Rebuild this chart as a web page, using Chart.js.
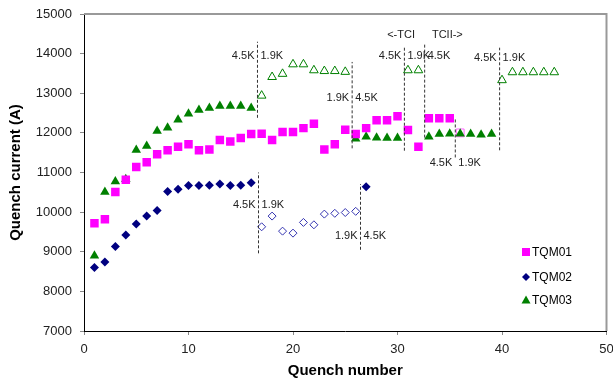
<!DOCTYPE html>
<html>
<head>
<meta charset="utf-8">
<script src="https://cdn.jsdelivr.net/npm/chart.js@4.4.0/dist/chart.umd.min.js"></script>
<style>
  body { margin: 0; background: #fff; }
</style>
</head>
<body>
<canvas id="quenchChart" width="613" height="380"></canvas>
<script>
// quench number / quench current (A)
var tqm01N = [1,2,3,4,5,6,7,8,9,10,11,12,13,14,15,16,17,18,19,20,21,22,23,24,25,26,27,28,29,30,31,32,33,34,35];
var tqm01I = [9720,9820,10510,10820,11140,11260,11460,11560,11650,11710,11560,11580,11820,11780,11870,11970,11980,11820,12020,12020,12120,12230,11580,11710,12080,11970,12120,12320,12320,12420,12070,11650,12370,12370,12370];
var tqm01OpenN = [36];
var tqm01OpenI = [12000];

var tqm02N = [1,2,3,4,5,6,7,8,9,10,11,12,13,14,15,16,27];
var tqm02I = [8600,8740,9130,9420,9700,9900,10040,10520,10580,10670,10670,10680,10710,10670,10680,10740,10640];
var tqm02OpenN = [17,18,19,20,21,22,23,24,25,26];
var tqm02OpenI = [9630,9900,9520,9470,9740,9680,9950,9970,9990,10020];

var tqm03N = [1,2,3,4,5,6,7,8,9,10,11,12,13,14,15,16,26,27,28,29,30,33,34,35,36,37,38,39];
var tqm03I = [8900,10510,10770,10830,11570,11670,12050,12130,12330,12480,12580,12630,12680,12680,12680,12630,11850,11900,11880,11870,11870,11900,11970,11980,11980,11970,11950,11970];
var tqm03OpenN = [17,18,19,20,21,22,23,24,25,31,32,40,41,42,43,44,45];
var tqm03OpenI = [12940,13410,13490,13730,13730,13580,13560,13560,13540,13580,13580,13330,13530,13530,13530,13530,13530];

// dashed temperature change markers
var cutX     = [16.6, 16.7, 25.66, 26.46, 30.66, 32.6, 35.53, 39.77];
var cutLow   = [12380, 8960, 11610, 9050, 11550, 11880, 11380, 11560];
var cutHigh  = [14300, 11000, 13790, 10710, 14170, 14230, 12380, 14150];
var cutTextY = [13940, 10180, 12890, 9400, 13950, 13950, 11240, 13890];
var cutLeft  = ['4.5K', '4.5K', '1.9K', '1.9K', '4.5K', '', '4.5K', '4.5K'];
var cutRight = ['1.9K', '1.9K', '4.5K', '4.5K', '1.9K', '4.5K', '1.9K', '1.9K'];

var noteText = ['<-TCI', 'TCII->'];
var noteX = [30.34, 34.77];
var noteY = [14460, 14460];

var seriesNames = ['TQM01', 'TQM02', 'TQM03'];

function pts(xs, ys) {
  var out = [];
  for (var i = 0; i < xs.length; i++) out.push({x: xs[i], y: ys[i]});
  return out;
}

var FONT = '"Liberation Sans", Arial, sans-serif';
Chart.defaults.font.family = FONT;
Chart.defaults.color = '#000';

var datasets = [
  { label: seriesNames[0], data: pts(tqm01N, tqm01I), pointStyle: 'rect', pointRadius: 6,
    backgroundColor: '#ff00ff', borderColor: '#ff00ff', borderWidth: 0 },
  { label: seriesNames[1], data: pts(tqm02N, tqm02I), pointStyle: 'rectRot', pointRadius: 4.5,
    backgroundColor: '#000080', borderColor: '#000080', borderWidth: 0 },
  { label: seriesNames[2], data: pts(tqm03N, tqm03I), pointStyle: 'triangle', pointRadius: 5.5,
    backgroundColor: '#008000', borderColor: '#008000', borderWidth: 0 },
  { label: 'open01', data: pts(tqm01OpenN, tqm01OpenI), pointStyle: 'rect', pointRadius: 5.5,
    backgroundColor: 'rgba(255,255,255,0)', borderColor: '#ff66ff', borderWidth: 1 },
  { label: 'open02', data: pts(tqm02OpenN, tqm02OpenI), pointStyle: 'rectRot', pointRadius: 4,
    backgroundColor: '#fff', borderColor: '#3333b0', borderWidth: 1 },
  { label: 'open03', data: pts(tqm03OpenN, tqm03OpenI), pointStyle: 'triangle', pointRadius: 5,
    backgroundColor: '#fff', borderColor: '#008000', borderWidth: 1 }
];

for (var c = 0; c < cutX.length; c++) {
  datasets.unshift({
    label: 'cut' + c,
    data: [{x: cutX[c], y: cutLow[c]}, {x: cutX[c], y: cutHigh[c]}],
    showLine: true, pointRadius: 0, borderColor: '#333', borderWidth: 1, borderDash: [3, 2]
  });
}

var frame = {
  id: 'frame',
  beforeDatasetsDraw: function(chart) {
    var a = chart.chartArea, ctx = chart.ctx;
    ctx.save();
    ctx.strokeStyle = '#999';
    ctx.lineWidth = 2;
    ctx.beginPath();
    ctx.moveTo(a.left, a.top);
    ctx.lineTo(a.right, a.top);
    ctx.lineTo(a.right, a.bottom);
    ctx.stroke();
    ctx.restore();
  }
};

var notes = {
  id: 'notes',
  afterDatasetsDraw: function(chart) {
    var ctx = chart.ctx, xs = chart.scales.x, ys = chart.scales.y;
    ctx.save();
    ctx.font = '11px ' + FONT;
    ctx.fillStyle = '#222';
    ctx.textBaseline = 'middle';
    for (var i = 0; i < cutX.length; i++) {
      var px = xs.getPixelForValue(cutX[i]);
      var py = ys.getPixelForValue(cutTextY[i]);
      ctx.textAlign = 'right';
      ctx.fillText(cutLeft[i], px - 3, py);
      ctx.textAlign = 'left';
      ctx.fillText(cutRight[i], px + 3, py);
    }
    ctx.textAlign = 'center';
    for (var j = 0; j < noteText.length; j++) {
      ctx.fillText(noteText[j], xs.getPixelForValue(noteX[j]), ys.getPixelForValue(noteY[j]));
    }

    // legend
    var lx = 526, ly = [252, 277, 300];
    var styles = ['rect', 'rectRot', 'triangle'];
    var cols = ['#ff00ff', '#000080', '#008000'];
    ctx.font = '12px ' + FONT;
    ctx.textAlign = 'left';
    for (var k = 0; k < 3; k++) {
      ctx.fillStyle = cols[k];
      ctx.beginPath();
      if (styles[k] === 'rect') {
        ctx.rect(lx - 4, ly[k] - 4, 8, 8);
      } else if (styles[k] === 'rectRot') {
        ctx.moveTo(lx, ly[k] - 4); ctx.lineTo(lx + 4, ly[k]);
        ctx.lineTo(lx, ly[k] + 4); ctx.lineTo(lx - 4, ly[k]);
      } else {
        ctx.moveTo(lx, ly[k] - 4.5); ctx.lineTo(lx + 4.5, ly[k] + 3.5); ctx.lineTo(lx - 4.5, ly[k] + 3.5);
      }
      ctx.closePath();
      ctx.fill();
      ctx.fillStyle = '#000';
      ctx.fillText(seriesNames[k], lx + 6, ly[k] + 1);
    }
    ctx.restore();
  }
};

new Chart(document.getElementById('quenchChart').getContext('2d'), {
  type: 'scatter',
  data: { datasets: datasets },
  options: {
    responsive: false,
    animation: false,
    devicePixelRatio: 1,
    layout: { padding: { top: 14, right: 6, left: 0, bottom: 0 } },
    plugins: { legend: { display: false }, tooltip: { enabled: false } },
    scales: {
      x: {
        min: 0, max: 50,
        afterFit: function(s) { s.height = 49; s.paddingLeft = 0; s.paddingRight = 0; },
        ticks: { stepSize: 10, font: { size: 13 }, padding: 7, maxRotation: 0, color: '#222' },
        grid: { drawOnChartArea: false, tickLength: 4, color: '#888' },
        border: { color: '#000', width: 1 },
        title: { display: true, text: 'Quench number', font: { size: 15, weight: 'bold' }, padding: 0 }
      },
      y: {
        min: 7000, max: 15000,
        afterFit: function(s) { s.width = 84; s.paddingTop = 0; s.paddingBottom = 0; },
        ticks: { stepSize: 1000, font: { size: 13 }, padding: 8, color: '#222', callback: function(v) { return String(v); } },
        grid: { drawOnChartArea: false, tickLength: 4, color: '#888' },
        border: { color: '#000', width: 1 },
        title: { display: true, text: 'Quench current (A)', font: { size: 15, weight: 'bold' }, padding: { top: 7, bottom: 0 } }
      }
    }
  },
  plugins: [frame, notes]
});
</script>
</body>
</html>
